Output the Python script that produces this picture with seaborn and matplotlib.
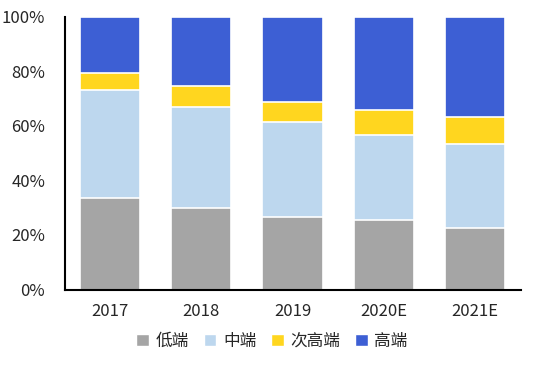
import matplotlib.pyplot as plt
import numpy as np
import pandas as pd
import seaborn as sns
from matplotlib.patches import Patch
from matplotlib.ticker import PercentFormatter

# share of each segment per year (%)
years = ['2017', '2018', '2019', '2020E', '2021E']
low = [33.4, 29.7, 26.4, 25.3, 22.4]
mid = [39.6, 37.3, 34.8, 31.2, 30.8]
sub_high = [6.2, 7.4, 7.4, 9.1, 9.9]
high = [20.8, 25.6, 31.4, 34.4, 36.9]

labels = ['低端', '中端', '次高端', '高端']
colors = ['#a5a5a5', '#bdd7ee', '#ffd61f', '#3d5fd4']

sns.set_style('white')
plt.rcParams['font.family'] = ['Noto Sans CJK SC', 'DejaVu Sans']

df = pd.DataFrame({'year': years, 'low': low, 'mid': mid,
                   'sub_high': sub_high, 'high': high})
# cumulative tops, drawn tallest first so shorter bars sit in front
cum = df[['low', 'mid', 'sub_high', 'high']].cumsum(axis=1)

fig = plt.figure(figsize=(5.35, 3.72), dpi=100)
ax = fig.add_axes([64.5 / 535, 1 - 289.5 / 372, 456 / 535, 273 / 372])

for col, color in reversed(list(zip(cum.columns, colors))):
    sns.barplot(x=df['year'], y=cum[col], color=color, width=0.66,
                edgecolor='white', linewidth=1.2, ax=ax, saturation=1)

ax.set_ylim(0, 100)
ax.set_xlim(-0.5, 4.5)
ax.yaxis.set_major_formatter(PercentFormatter(decimals=0))
ax.set_yticks(np.arange(0, 101, 20))
ax.set_xlabel('')
ax.set_ylabel('')
ax.tick_params(axis='both', length=0, labelsize=12)
ax.tick_params(axis='x', pad=10)
ax.tick_params(axis='y', pad=14)
sns.despine(ax=ax)
for s in ['left', 'bottom']:
    ax.spines[s].set_color('black')
    ax.spines[s].set_linewidth(1.5)

handles = [Patch(facecolor=c, label=l) for c, l in zip(colors, labels)]
fig.legend(handles=handles, loc='center', bbox_to_anchor=(272 / 535, 1 - 341 / 372),
           ncol=4, frameon=False, fontsize=12, handlelength=0.75, handleheight=0.75,
           handletextpad=0.4, columnspacing=0.9)

fig.savefig('out.png', dpi=100)
